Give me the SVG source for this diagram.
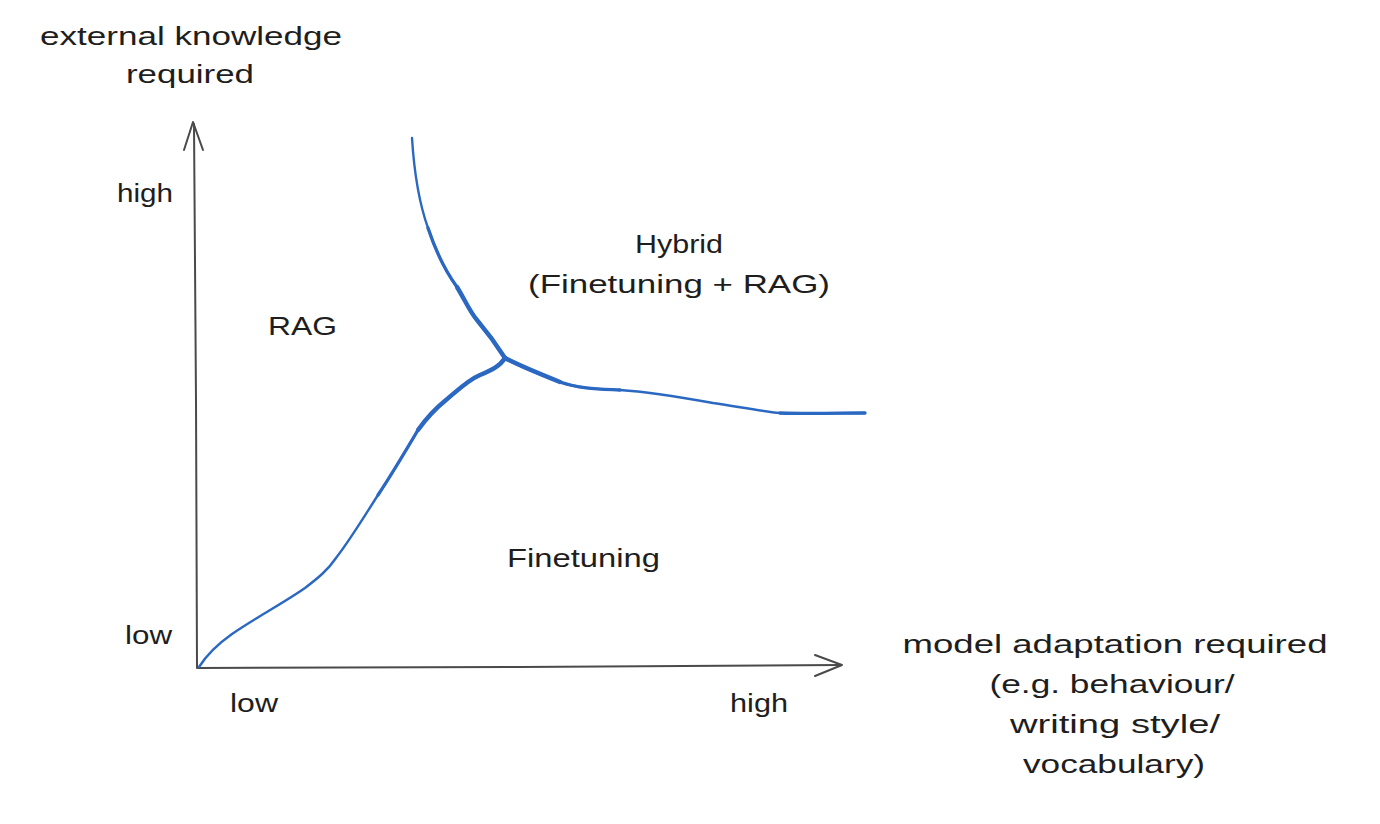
<svg xmlns="http://www.w3.org/2000/svg" width="1380" height="824" viewBox="0 0 1380 824">
  <style>
    .t { font-family: "Liberation Sans", "DejaVu Sans", sans-serif; font-size: 26px; fill: #1e1e1e; }
    .axis { fill: none; stroke: #4a4a4a; stroke-width: 2; stroke-linecap: round; stroke-linejoin: round; }
    .curve { fill: none; stroke: #2b68c2; stroke-width: 2.4; stroke-linecap: round; stroke-linejoin: round; }
    .mid { fill: none; stroke: #2b68c2; stroke-width: 3.3; stroke-linecap: round; stroke-linejoin: round; }
    .thick { fill: none; stroke: #2b68c2; stroke-width: 4.4; stroke-linecap: round; stroke-linejoin: round; }
  </style>
  <rect width="1380" height="824" fill="#ffffff"/>

  <g id="y-axis">
    <path class="axis" d="M197,668 L196,400 L194,124"/>
    <path class="axis" d="M184,150 L193,122 L203,150"/>
  </g>
  <g id="x-axis">
    <path class="axis" d="M198,668 L520,667 L840,665"/>
    <path class="axis" d="M815,655 L842,665 L815,676"/>
  </g>

  <g id="connectors">
    <path class="curve" d="M412,138 C414,170 418,200 428,228 C436,252 446,272 457,287 C466,302 470,312 477,320 C488,333 496,344 505,358"/>
    <path class="mid" d="M428,228 C436,252 446,272 457,287 C466,302 470,312 477,320 C488,333 496,344 505,358"/>
    <path class="thick" d="M457,287 C466,302 470,312 477,320 C488,333 496,344 505,358"/>
    <path class="curve" d="M199,667 C206,656 215,646 232,634 C255,618 282,604 305,588 C318,578 328,570 336,558 C350,540 362,520 378,495 C392,474 405,452 418,430 C428,416 436,408 446,400 C458,390 468,380 480,375 C492,370 500,366 505,358"/>
    <path class="mid" d="M378,495 C392,474 405,452 418,430 C428,416 436,408 446,400 C458,390 468,380 480,375 C492,370 500,366 505,358"/>
    <path class="thick" d="M418,430 C428,416 436,408 446,400 C458,390 468,380 480,375 C492,370 500,366 505,358"/>
    <path class="curve" d="M505,358 C520,366 540,374 560,382 C580,389 600,389 620,390 C650,392 685,398 713,403 C740,407 760,411 780,413 C810,414 840,413 865,413"/>
    <path class="mid" d="M505,358 C520,366 540,374 560,382 C580,389 600,389 620,390"/>
    <path class="thick" d="M505,358 C520,366 540,374 560,382"/>
    <path class="mid" d="M780,413 C810,414 840,413 865,413"/>
  </g>

  <g id="label-y-axis">
    <text class="t" x="191" y="45" text-anchor="middle" textLength="302" lengthAdjust="spacingAndGlyphs">external knowledge</text>
    <text class="t" x="190" y="83" text-anchor="middle" textLength="128" lengthAdjust="spacingAndGlyphs">required</text>
  </g>
  <g id="label-y-high"><text class="t" x="117" y="202" textLength="56" lengthAdjust="spacingAndGlyphs">high</text></g>
  <g id="label-y-low"><text class="t" x="125" y="644" textLength="47" lengthAdjust="spacingAndGlyphs">low</text></g>
  <g id="label-x-low"><text class="t" x="230" y="712" textLength="48" lengthAdjust="spacingAndGlyphs">low</text></g>
  <g id="label-x-high"><text class="t" x="730" y="712" textLength="58" lengthAdjust="spacingAndGlyphs">high</text></g>

  <g id="node-rag"><text class="t" x="268" y="335" textLength="69" lengthAdjust="spacingAndGlyphs">RAG</text></g>
  <g id="node-hybrid">
    <text class="t" x="679" y="253" text-anchor="middle" textLength="88" lengthAdjust="spacingAndGlyphs">Hybrid</text>
    <text class="t" x="679" y="293" text-anchor="middle" textLength="302" lengthAdjust="spacingAndGlyphs">(Finetuning + RAG)</text>
  </g>
  <g id="node-finetuning"><text class="t" x="507" y="567" textLength="153" lengthAdjust="spacingAndGlyphs">Finetuning</text></g>

  <g id="label-x-axis">
    <text class="t" x="1115" y="653" text-anchor="middle" textLength="425" lengthAdjust="spacingAndGlyphs">model adaptation required</text>
    <text class="t" x="1112" y="693" text-anchor="middle" textLength="245" lengthAdjust="spacingAndGlyphs">(e.g. behaviour/</text>
    <text class="t" x="1115" y="733" text-anchor="middle" textLength="210" lengthAdjust="spacingAndGlyphs">writing style/</text>
    <text class="t" x="1114" y="773" text-anchor="middle" textLength="182" lengthAdjust="spacingAndGlyphs">vocabulary)</text>
  </g>
</svg>
